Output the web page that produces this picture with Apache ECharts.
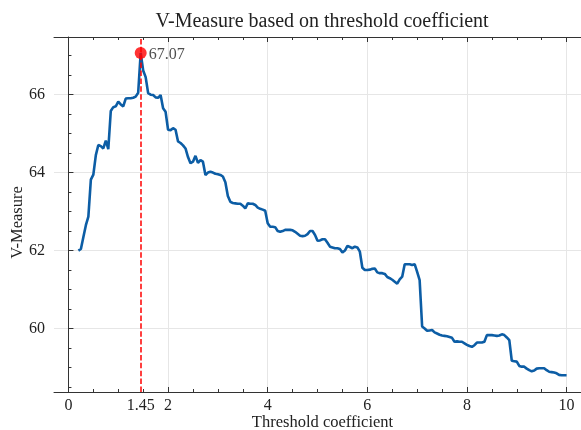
<!DOCTYPE html>
<html>
<head>
<meta charset="utf-8">
<script src="https://cdn.jsdelivr.net/npm/echarts@6/dist/echarts.min.js"></script>
<style>html,body{margin:0;padding:0;background:#fff}#c{width:581px;height:430px}</style>
</head>
<body>
<div id="c"></div>
<script>
// Threshold coefficient grid (start, step) and V-Measure values
const thresholdStart = 0.2;
const thresholdStep = 0.05;
const vMeasure = [
  62.00, 62.04, 62.35, 62.65, 62.87, 63.82, 63.95, 64.45, 64.71, 64.68, 64.62, 64.82, 64.60, 65.58, 65.68, 65.70,
  65.82, 65.75, 65.70, 65.90, 65.91, 65.91, 65.92, 65.95, 66.05, 67.07, 66.62, 66.45, 66.04, 66.00, 65.99, 65.93, 65.92, 65.99, 65.65, 65.56,
  65.10, 65.09, 65.14, 65.10, 64.80, 64.76, 64.70, 64.62, 64.40, 64.24, 64.28, 64.43, 64.25, 64.32, 64.28, 63.94, 64.00, 64.02, 64.00, 63.97,
  63.96, 63.94, 63.90, 63.75, 63.40, 63.25, 63.22, 63.21, 63.20, 63.20, 63.15, 63.08, 63.21, 63.20, 63.20, 63.17, 63.10, 63.07, 63.05, 63.02,
  62.70, 62.61, 62.61, 62.60, 62.50, 62.48, 62.50, 62.53, 62.53, 62.53, 62.52, 62.48, 62.43, 62.38, 62.37, 62.38, 62.42, 62.50, 62.50, 62.40,
  62.25, 62.26, 62.29, 62.29, 62.20, 62.10, 62.08, 62.06, 62.06, 62.04, 61.95, 62.00, 62.12, 62.09, 62.06, 62.10, 62.08, 61.97, 61.56, 61.50,
  61.50, 61.51, 61.53, 61.54, 61.44, 61.42, 61.42, 61.40, 61.32, 61.29, 61.25, 61.20, 61.15, 61.26, 61.33, 61.65, 61.65, 61.65, 61.63, 61.65,
  61.45, 61.24, 60.05, 60.00, 59.94, 59.95, 59.96, 59.90, 59.87, 59.84, 59.82, 59.81, 59.80, 59.78, 59.76, 59.66, 59.67, 59.66, 59.66, 59.62,
  59.58, 59.55, 59.53, 59.57, 59.64, 59.64, 59.64, 59.66, 59.83, 59.83, 59.83, 59.82, 59.81, 59.82, 59.85, 59.83, 59.77, 59.70, 59.17, 59.16,
  59.15, 59.04, 59.02, 59.02, 58.97, 58.93, 58.90, 58.92, 58.97, 58.98, 58.98, 58.98, 58.93, 58.89, 58.88, 58.87, 58.85, 58.81, 58.80, 58.80,
  58.80
];
const xTickLabels = [0, 1.45, 2, 4, 6, 8, 10];
const xMajorTicks = [0, 2, 4, 6, 8, 10];
const xMinorTicks = [0.5, 1, 1.5, 2.5, 3, 3.5, 4.5, 5, 5.5, 6.5, 7, 7.5, 8.5, 9, 9.5];
const yTickLabels = [60, 62, 64, 66];
const yMinorTicks = [58.5, 59, 59.5, 60.5, 61, 61.5, 62.5, 63, 63.5, 64.5, 65, 65.5, 66.5, 67];

const thresholds = vMeasure.map((_, i) => +(thresholdStart + i * thresholdStep).toFixed(2));
const lineData = thresholds.map((t, i) => [t, vMeasure[i]]);
let best = 0;
vMeasure.forEach((v, i) => { if (v > vMeasure[best]) best = i; });
const bestX = thresholds[best], bestY = vMeasure[best];

const FONT = 'Liberation Serif';
const XMIN = -0.29, XMAX = 10.49, YMIN = 58.37, YMAX = 67.48;
const spine = { show: true, lineStyle: { color: '#333', width: 1 } };

function xAx(pos, ticks, len, main) {
  return {
    type: 'value', position: pos, min: XMIN, max: XMAX,
    axisLine: main ? spine : { show: false },
    axisTick: { show: true, inside: true, length: len, customValues: ticks, lineStyle: { color: '#333', width: 1 } },
    axisLabel: main && pos === 'bottom' ? { show: true, customValues: xTickLabels, margin: 6, fontFamily: FONT, fontSize: 16, color: '#222',
      formatter: v => String(v) } : { show: false },
    splitLine: main && pos === 'bottom' ? { show: true, lineStyle: { color: '#e6e6e6', width: 1 } } : { show: false },
    name: main && pos === 'bottom' ? 'Threshold coefficient' : '',
    nameLocation: 'middle', nameGap: 22, nameMoveOverlap: false,
    nameTextStyle: { fontFamily: FONT, fontSize: 16.5, color: '#222', verticalAlign: 'top' }
  };
}
function yAx(ticks, len, main) {
  return {
    type: 'value', position: 'left', min: YMIN, max: YMAX,
    axisLine: main ? spine : { show: false },
    axisTick: { show: true, inside: true, length: len, customValues: ticks, lineStyle: { color: '#333', width: 1 } },
    axisLabel: main ? { show: true, customValues: yTickLabels, margin: 9, fontFamily: FONT, fontSize: 16, color: '#222' } : { show: false },
    splitLine: main ? { show: true, lineStyle: { color: '#e6e6e6', width: 1 } } : { show: false },
    name: main ? 'V-Measure' : '',
    nameLocation: 'middle', nameGap: 28, nameMoveOverlap: false,
    nameTextStyle: { fontFamily: FONT, fontSize: 16.5, color: '#222', padding: [0, 16, 0, 0] }
  };
}

const chart = echarts.init(document.getElementById('c'), null, { renderer: 'canvas' });
chart.setOption({
  animation: false,
  backgroundColor: '#fff',
  title: {
    text: 'V-Measure based on threshold coefficient',
    left: 317, textAlign: 'center', top: 7,
    textStyle: { fontFamily: FONT, fontSize: 20, fontWeight: 'normal', color: '#222' }
  },
  grid: { left: 54, top: 37, width: 537, height: 355, outerBoundsMode: 'none', containLabel: false },
  xAxis: [
    xAx('bottom', xMajorTicks, 5, true),
    xAx('bottom', xMinorTicks, 3, false),
    xAx('top', xMajorTicks, 5, true),
    xAx('top', xMinorTicks, 3, false)
  ],
  yAxis: [
    yAx(yTickLabels, 5, true),
    yAx(yMinorTicks, 3, false)
  ],
  series: [
    {
      type: 'line', xAxisIndex: 0, yAxisIndex: 0,
      data: lineData, showSymbol: false, symbol: 'none',
      lineStyle: { color: '#0C5DA5', width: 2.6 },
      z: 3,
      markLine: {
        silent: true, symbol: 'none', label: { show: false },
        lineStyle: { color: '#ff0000', type: [5.5, 2.4], width: 1.5 },
        data: [{ xAxis: bestX }]
      }
    },
    {
      type: 'scatter', xAxisIndex: 0, yAxisIndex: 0,
      data: [[bestX, bestY]], symbol: 'circle', symbolSize: 12,
      itemStyle: { color: '#ff0000' }, z: 5,
      label: { show: true, position: 'right', distance: 2, offset: [0, 2],
        formatter: bestY.toFixed(2), fontFamily: FONT, fontSize: 16, color: '#222' }
    }
  ]
});
</script>
</body>
</html>
